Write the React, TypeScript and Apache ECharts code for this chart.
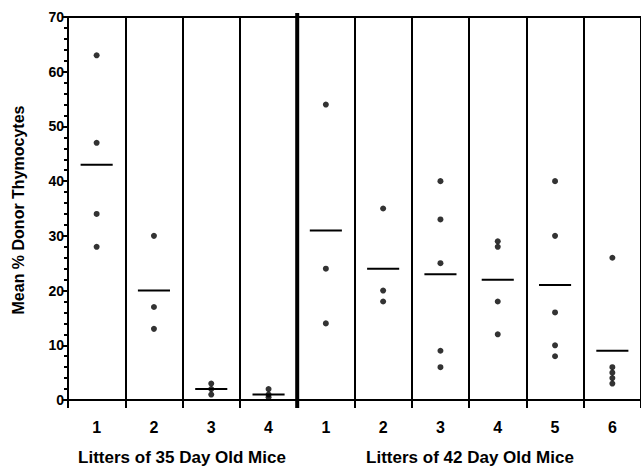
import React, { useEffect, useRef } from "react";
import * as echarts from "echarts";

const litters35 = ["1", "2", "3", "4"];
const litters42 = ["1", "2", "3", "4", "5", "6"];

// individual mouse values per litter
const mice35_1 = [63, 47, 34, 28];
const mice35_2 = [30, 17, 13];
const mice35_3 = [3, 2, 1];
const mice35_4 = [2, 1, 0.5];
const mice42_1 = [54, 24, 14];
const mice42_2 = [35, 20, 18];
const mice42_3 = [40, 33, 25, 9, 6];
const mice42_4 = [29, 28, 18, 12];
const mice42_5 = [40, 30, 16, 10, 8];
const mice42_6 = [26, 6, 5, 4, 3];

// mean bars per litter
const means = [43, 20, 2, 1, 31, 24, 23, 22, 21, 9];

const yTicks = [0, 10, 20, 30, 40, 50, 60, 70];

const columns = [
  mice35_1, mice35_2, mice35_3, mice35_4,
  mice42_1, mice42_2, mice42_3, mice42_4, mice42_5, mice42_6,
];
const columnKeys = [
  ...litters35.map((l) => "35-" + l),
  ...litters42.map((l) => "42-" + l),
];
const dividerAfter = litters35.length - 1;

const FONT = "'Liberation Sans', Arial, Helvetica, sans-serif";

export default function App() {
  const ref = useRef<HTMLDivElement>(null);
  useEffect(() => {
    document.body.style.margin = "0";
    if (!ref.current) return;
    const chart = echarts.init(ref.current, null, { renderer: "svg" });
    const points: number[][] = [];
    columns.forEach((vals, i) => vals.forEach((v) => points.push([i, v])));
    chart.setOption({
      animation: false,
      backgroundColor: "#fff",
      grid: { left: 68, right: 0, top: 17, bottom: 68, containLabel: false },
      xAxis: [
        {
          type: "category",
          data: columnKeys,
          boundaryGap: true,
          axisLine: { show: true, lineStyle: { color: "#000", width: 2 } },
          axisTick: { show: true, inside: false, length: 8, lineStyle: { color: "#000", width: 2 } },
          splitLine: { show: true, lineStyle: { color: "#000", width: 2 } },
          axisLabel: {
            formatter: (v: string) => v.split("-")[1],
            color: "#000",
            fontFamily: FONT,
            fontWeight: "bold",
            fontSize: 16,
            margin: 19,
          },
        },
        {
          type: "category",
          data: columnKeys,
          position: "top",
          axisLine: { show: true, lineStyle: { color: "#000", width: 2 } },
          axisTick: { show: false },
          axisLabel: { show: false },
        },
      ],
      yAxis: {
        type: "value",
        min: 0,
        max: 70,
        interval: 10,
        axisLine: { show: true, lineStyle: { color: "#000", width: 2 } },
        axisTick: { show: true, length: 6, lineStyle: { color: "#000", width: 2 } },
        minorTick: { show: true, splitNumber: 5, length: 4, lineStyle: { color: "#000", width: 2 } },
        splitLine: { show: false },
        axisLabel: {
          color: "#000",
          fontFamily: FONT,
          fontWeight: "bold",
          fontSize: 14,
          margin: 4,
          formatter: (v: number) => (yTicks.includes(v) ? String(v) : ""),
        },
      },
      series: [
        {
          type: "scatter",
          data: points,
          symbol: "circle",
          symbolSize: 6,
          itemStyle: { color: "#000" },
          silent: true,
        },
        {
          type: "custom",
          data: means.map((m, i) => [i, m]),
          renderItem: (params: any, api: any) => {
            const c = api.coord([api.value(0), api.value(1)]);
            const w = api.size([1, 0])[0] * 0.56;
            return {
              type: "line",
              shape: { x1: c[0] - w / 2, y1: c[1], x2: c[0] + w / 2, y2: c[1] },
              style: { stroke: "#000", lineWidth: 2 },
            };
          },
          silent: true,
        },
        {
          type: "custom",
          data: [[dividerAfter, 0]],
          clip: false,
          renderItem: (params: any, api: any) => {
            const c0 = api.coord([api.value(0), 0]);
            const cTop = api.coord([api.value(0), 70]);
            const half = api.size([1, 0])[0] / 2;
            const x = c0[0] + half;
            return {
              type: "line",
              shape: { x1: x, y1: cTop[1] - 4, x2: x, y2: c0[1] + 8 },
              style: { stroke: "#000", lineWidth: 4 },
            };
          },
          silent: true,
        },
      ],
      graphic: [
        {
          type: "text",
          x: 182,
          y: 457,
          style: {
            text: "Litters of 35 Day Old Mice",
            fill: "#000",
            font: `bold 17px ${FONT}`,
            align: "center",
            verticalAlign: "middle",
          },
        },
        {
          type: "text",
          x: 470,
          y: 457,
          style: {
            text: "Litters of 42 Day Old Mice",
            fill: "#000",
            font: `bold 17px ${FONT}`,
            align: "center",
            verticalAlign: "middle",
          },
        },
        {
          type: "text",
          x: 18,
          y: 210,
          rotation: Math.PI / 2,
          style: {
            text: "Mean % Donor Thymocytes",
            fill: "#000",
            font: `bold 16px ${FONT}`,
            align: "center",
            verticalAlign: "middle",
          },
        },
      ],
    });
    return () => chart.dispose();
  }, []);
  return <div ref={ref} style={{ width: 641, height: 468 }} />;
}
